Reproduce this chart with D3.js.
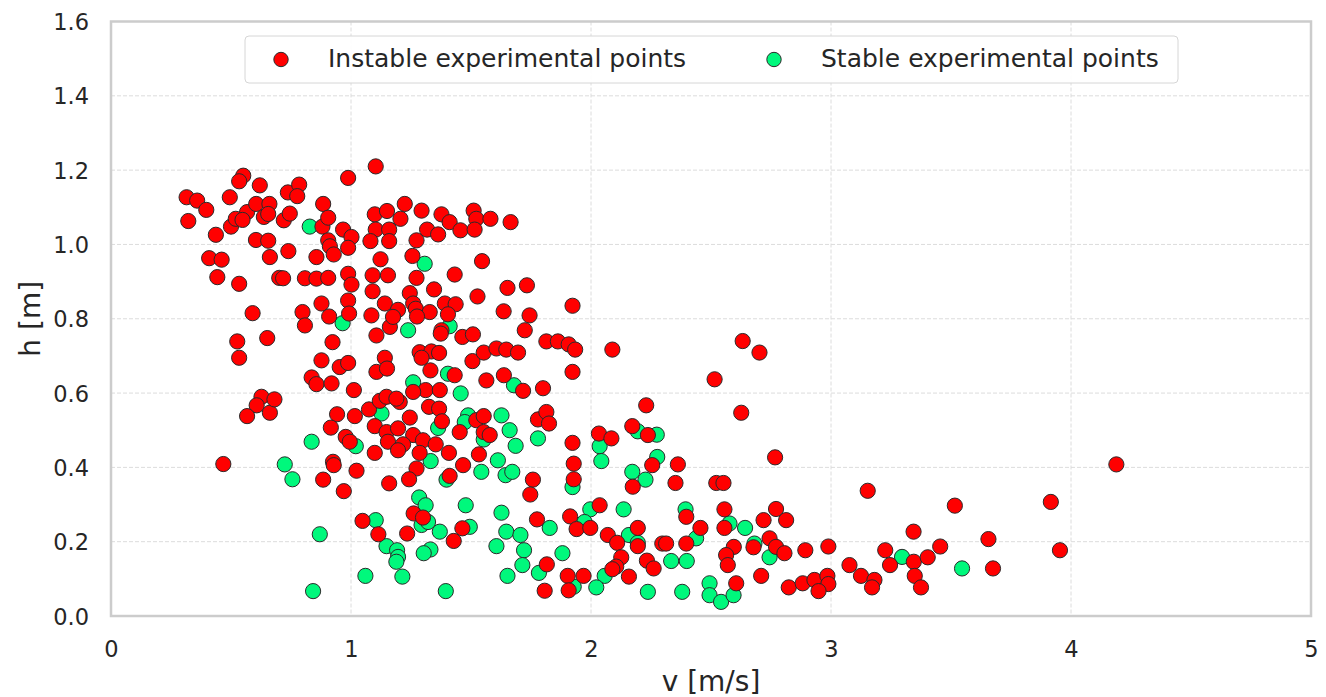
<!DOCTYPE html>
<html>
<head>
<meta charset="utf-8">
<script src="https://cdn.jsdelivr.net/npm/d3@7"></script>
<style>
	body { margin: 0; background: #ffffff; }
	text { font-family: "DejaVu Sans", sans-serif; fill: #262626; }
</style>
</head>
<body>
<svg id="chart" width="1326" height="697"></svg>
<script>

//=================== DATA ====================================
// [v (m/s), h (m)]
var instablePoints = [
	[0.551,1.185],[0.534,1.170],[0.620,1.159],[0.315,1.127],[0.359,1.118],[0.397,1.093],[0.495,1.127],
	[0.322,1.063],[0.437,1.026],[0.500,1.048],[0.520,1.069],[0.567,1.087],[0.605,1.109],[0.660,1.109],
	[0.637,1.074],[0.655,1.082],[0.720,1.065],[0.737,1.140],[0.548,1.066],[0.604,1.012],[0.655,1.010],
	[0.662,0.966],[0.739,0.982],[0.409,0.963],[0.461,0.959],[0.443,0.912],[0.534,0.894],[0.701,0.910],
	[0.717,0.909],[0.590,0.815],[0.526,0.739],[0.534,0.695],[0.651,0.748],[0.627,0.590],[0.607,0.567],
	[0.567,0.538],[0.662,0.547],[0.681,0.583],[0.468,0.409],
	[1.103,1.210],[0.988,1.179],[0.784,1.161],[0.776,1.130],[0.884,1.109],[0.745,1.083],[0.881,1.048],
	[0.905,1.072],[0.967,1.040],[1.002,1.020],[0.905,1.011],[0.912,0.995],[0.928,0.973],[0.988,0.991],
	[0.856,0.966],[1.099,1.081],[1.150,1.090],[1.224,1.109],[1.294,1.091],[1.377,1.081],[1.206,1.069],
	[1.103,1.040],[1.159,1.040],[1.081,1.009],[1.159,1.009],[1.273,1.011],[1.317,1.040],[1.363,1.027],
	[1.411,1.060],[1.456,1.038],[1.511,1.091],[1.522,1.069],[1.515,1.040],[1.581,1.069],[1.665,1.060],
	[1.123,0.960],[1.256,0.969],[1.546,0.955],[0.808,0.909],[0.856,0.908],[0.905,0.910],[0.988,0.921],
	[1.002,0.892],[1.090,0.917],[1.090,0.874],[1.154,0.917],[1.273,0.910],[1.432,0.919],[1.346,0.879],
	[1.245,0.869],[1.527,0.860],[1.652,0.883],[1.733,0.890],[0.877,0.841],[0.988,0.849],[1.141,0.841],
	[1.196,0.824],[1.259,0.841],[1.270,0.827],[1.328,0.818],[1.391,0.841],[1.436,0.839],[1.404,0.812],
	[1.636,0.820],[1.744,0.809],[1.923,0.835],[0.798,0.818],[0.808,0.782],[0.909,0.806],[0.992,0.814],
	[1.085,0.809],[1.162,0.778],[1.175,0.805],[1.275,0.806],[1.377,0.769],[1.374,0.760],[1.464,0.751],
	[1.508,0.758],[1.724,0.769],[1.106,0.755],[0.923,0.737],[1.814,0.739],[1.862,0.739],[1.907,0.731],
	[1.934,0.717],[2.089,0.717],[0.877,0.688],[0.953,0.670],[0.988,0.681],[1.141,0.695],[1.106,0.657],
	[1.150,0.666],[1.286,0.710],[1.335,0.712],[1.367,0.708],[1.294,0.695],[1.506,0.686],[1.553,0.709],
	[1.606,0.720],[1.647,0.717],[1.696,0.709],[1.923,0.657],[1.331,0.661],[1.432,0.648],[1.564,0.634],
	[1.637,0.648],[0.836,0.642],[0.856,0.624],[0.919,0.626],[1.012,0.608],[1.311,0.608],[1.370,0.608],
	[1.800,0.613],[1.717,0.606],
	[1.259,0.603],[1.075,0.556],[1.120,0.579],[1.148,0.590],[1.203,0.576],[1.189,0.585],[1.016,0.538],
	[0.942,0.543],[0.916,0.507],[0.978,0.482],[0.995,0.469],[1.099,0.511],[1.148,0.495],[1.154,0.469],
	[1.196,0.505],[1.245,0.534],[1.259,0.487],[1.217,0.462],[1.196,0.446],[1.325,0.563],[1.367,0.558],
	[1.379,0.524],[1.300,0.473],[1.353,0.462],[1.286,0.439],[1.408,0.439],[1.099,0.439],[1.273,0.397],
	[1.242,0.368],[1.159,0.357],[1.023,0.391],[0.925,0.415],[0.928,0.406],[0.884,0.367],[0.970,0.336],
	[1.411,0.377],[1.467,0.406],[1.453,0.495],[1.522,0.527],[1.553,0.538],[1.553,0.495],[1.578,0.487],
	[1.533,0.435],[1.779,0.529],[1.814,0.549],[1.825,0.518],[1.923,0.466],[1.928,0.410],[1.928,0.368],
	[1.758,0.367],[1.747,0.327],[1.261,0.276],[1.300,0.265],[1.048,0.256],[1.114,0.220],[1.234,0.222],
	[1.428,0.202],[1.464,0.236],[1.775,0.260],[1.913,0.268],[1.940,0.234],[1.816,0.139],[1.903,0.108],
	[1.907,0.069],[1.807,0.068],
	[2.632,0.740],[2.702,0.709],[2.515,0.637],[2.230,0.567],[2.626,0.547],[2.033,0.491],[2.085,0.478],
	[2.172,0.511],[2.237,0.487],[2.255,0.406],[2.362,0.408],[2.352,0.358],[2.174,0.348],[2.522,0.358],
	[2.552,0.358],[2.767,0.427],[2.036,0.298],[1.997,0.237],[2.070,0.218],[2.109,0.197],[2.195,0.237],
	[2.195,0.188],[2.126,0.158],[2.105,0.133],[2.089,0.126],[2.158,0.106],[1.969,0.108],[2.233,0.149],
	[2.261,0.128],[2.297,0.195],[2.313,0.195],[2.397,0.195],[2.456,0.237],[2.397,0.267],[2.556,0.287],
	[2.556,0.237],[2.595,0.186],[2.563,0.164],[2.570,0.137],[2.605,0.088],[2.709,0.108],[2.677,0.185],
	[2.719,0.258],[2.771,0.288],[2.813,0.258],[2.744,0.209],[2.771,0.186],[2.806,0.169],[2.893,0.177],
	[2.989,0.187],[2.824,0.077],[2.882,0.088],[2.931,0.097],[2.985,0.108],[2.989,0.086],[2.948,0.067],
	[3.153,0.337],[3.516,0.297],[3.916,0.307],[3.954,0.177],[3.344,0.227],[3.656,0.207],[3.675,0.128],
	[3.226,0.177],[3.246,0.137],[3.345,0.146],[3.403,0.158],[3.455,0.187],[3.077,0.137],[3.125,0.108],
	[3.181,0.097],[3.171,0.077],[3.349,0.108],[3.375,0.077],[4.189,0.408]
];

var stablePoints = [
	[0.828,1.048],[1.307,0.948],[0.965,0.788],[1.238,0.769],[1.411,0.780],[1.404,0.652],[1.259,0.629],
	[1.457,0.599],[1.679,0.621],[1.127,0.545],[1.020,0.457],[1.363,0.506],[1.332,0.417],[0.836,0.469],
	[0.724,0.408],[0.756,0.368],[1.398,0.367],[1.488,0.540],[1.474,0.522],[1.553,0.475],[1.627,0.540],
	[1.661,0.500],[1.686,0.458],[1.612,0.419],[1.543,0.388],[1.644,0.379],[1.672,0.388],[1.779,0.478],
	[1.923,0.347],[1.284,0.319],[1.311,0.298],[1.294,0.245],[1.321,0.253],[1.478,0.298],[1.627,0.278],
	[1.103,0.258],[1.148,0.188],[1.192,0.177],[1.196,0.159],[1.189,0.146],[1.370,0.227],[1.495,0.240],
	[1.331,0.179],[1.303,0.169],[0.870,0.220],[1.647,0.227],[1.706,0.218],[1.606,0.188],[1.721,0.177],
	[1.714,0.137],[1.652,0.108],[1.783,0.116],[1.828,0.237],[1.881,0.169],[1.928,0.079],[1.060,0.108],
	[1.214,0.106],[0.842,0.067],[1.395,0.067],
	[2.036,0.457],[2.043,0.417],[2.195,0.497],[2.274,0.488],[2.276,0.428],[2.172,0.388],[2.227,0.367],
	[1.997,0.287],[2.136,0.287],[1.973,0.253],[2.158,0.218],[2.195,0.197],[2.057,0.108],[2.022,0.077],
	[2.237,0.065],[2.334,0.148],[2.399,0.148],[2.438,0.209],[2.394,0.287],[2.380,0.065],[2.577,0.249],
	[2.642,0.237],[2.494,0.088],[2.494,0.056],[2.542,0.038],[2.594,0.056],[2.681,0.195],[2.744,0.158],
	[3.296,0.159],[3.546,0.128]
];

var xTicks = [0, 1, 2, 3, 4, 5];
var yTicks = [0.0, 0.2, 0.4, 0.6, 0.8, 1.0, 1.2, 1.4, 1.6];
var seriesNames = ["Instable experimental points", "Stable experimental points"];
var seriesColours = ["#ff0000", "#00f87c"];
var xLabel = "v [m/s]";
var yLabel = "h [m]";

//=================== PRIVATE VARIABLES ====================================
var svgWidth = 1326;
var svgHeight = 697;
var plotLeft = 111, plotRight = 1311, plotTop = 21.5, plotBottom = 616;
var markerRadius = 7.6;

var xScale = d3.scaleLinear().domain([0, 5]).range([plotLeft, plotRight]);
var yScale = d3.scaleLinear().domain([0, 1.6]).range([plotBottom, plotTop]);

var svg = d3.select("#chart");

//=================== PRIVATE FUNCTIONS ====================================
function drawGrid() {
	var grp = svg.append("g").classed("grid", true);

	grp.selectAll("line.vgrid")
		.data(xTicks)
		.enter()
		.append("line")
		.attr("x1", function (d) { return xScale(d); })
		.attr("x2", function (d) { return xScale(d); })
		.attr("y1", plotTop)
		.attr("y2", plotBottom)
		.style("stroke", "#dcdcdc")
		.style("stroke-width", 1)
		.style("stroke-dasharray", "4,2");

	grp.selectAll("line.hgrid")
		.data(yTicks)
		.enter()
		.append("line")
		.attr("x1", plotLeft)
		.attr("x2", plotRight)
		.attr("y1", function (d) { return yScale(d); })
		.attr("y2", function (d) { return yScale(d); })
		.style("stroke", "#dcdcdc")
		.style("stroke-width", 1)
		.style("stroke-dasharray", "4,2");
}

function drawAxes() {
	// tick labels only, seaborn whitegrid has no tick marks
	var xAxis = d3.axisBottom(xScale).tickValues(xTicks).tickSize(0).tickPadding(0)
		.tickFormat(d3.format("d"));
	var yAxis = d3.axisLeft(yScale).tickValues(yTicks).tickSize(0).tickPadding(0)
		.tickFormat(d3.format(".1f"));

	var gx = svg.append("g").attr("transform", "translate(0," + plotBottom + ")").call(xAxis);
	gx.select(".domain").remove();
	gx.selectAll("text")
		.attr("y", 41)
		.attr("dy", 0)
		.style("font-size", "22.5px")
		.style("font-family", "'DejaVu Sans', sans-serif")
		.style("fill", "#262626");

	var gy = svg.append("g").attr("transform", "translate(" + plotLeft + ",0)").call(yAxis);
	gy.select(".domain").remove();
	gy.selectAll("text")
		.attr("x", -22)
		.attr("dy", "0.36em")
		.style("font-size", "22.5px")
		.style("font-family", "'DejaVu Sans', sans-serif")
		.style("fill", "#262626");

	svg.append("text")
		.attr("x", (plotLeft + plotRight) / 2)
		.attr("y", 691)
		.attr("text-anchor", "middle")
		.style("font-size", "28px")
		.text(xLabel);

	svg.append("text")
		.attr("transform", "translate(40," + ((plotTop + plotBottom) / 2) + ") rotate(-90)")
		.attr("text-anchor", "middle")
		.style("font-size", "28px")
		.text(yLabel);
}

function drawFrame() {
	svg.append("rect")
		.attr("x", plotLeft)
		.attr("y", plotTop)
		.attr("width", plotRight - plotLeft)
		.attr("height", plotBottom - plotTop)
		.style("fill", "none")
		.style("stroke", "#cccccc")
		.style("stroke-width", 2.5);
}

function drawPoints(points, colour) {
	svg.append("g")
		.selectAll("circle")
		.data(points)
		.enter()
		.append("circle")
		.attr("cx", function (d) { return xScale(d[0]); })
		.attr("cy", function (d) { return yScale(d[1]); })
		.attr("r", markerRadius)
		.style("fill", colour)
		.style("stroke", "#2a2a2a")
		.style("stroke-width", 1);
}

function drawLegend() {
	var grp = svg.append("g").classed("legend", true);

	grp.append("rect")
		.attr("x", 245)
		.attr("y", 36)
		.attr("width", 933)
		.attr("height", 47)
		.attr("rx", 4)
		.style("fill", "#ffffff")
		.style("fill-opacity", 0.9)
		.style("stroke", "#d6d6d6")
		.style("stroke-width", 1);

	var markerX = [281, 774];
	var textX = [328, 821];

	var items = grp.selectAll("g.item")
		.data(seriesNames)
		.enter()
		.append("g");

	items.append("circle")
		.attr("cx", function (d, i) { return markerX[i]; })
		.attr("cy", 59.5)
		.attr("r", 7.2)
		.style("fill", function (d, i) { return seriesColours[i]; })
		.style("stroke", "#2a2a2a")
		.style("stroke-width", 1);

	items.append("text")
		.attr("x", function (d, i) { return textX[i]; })
		.attr("y", 66.5)
		.style("font-size", "25px")
		.text(function (d) { return d; });
}

function render() {
	drawGrid();
	drawFrame();
	drawAxes();
	// stable points go under the instable ones, as in the picture
	drawPoints(stablePoints, seriesColours[1]);
	drawPoints(instablePoints, seriesColours[0]);
	drawLegend();
}

render();
</script>
</body>
</html>
